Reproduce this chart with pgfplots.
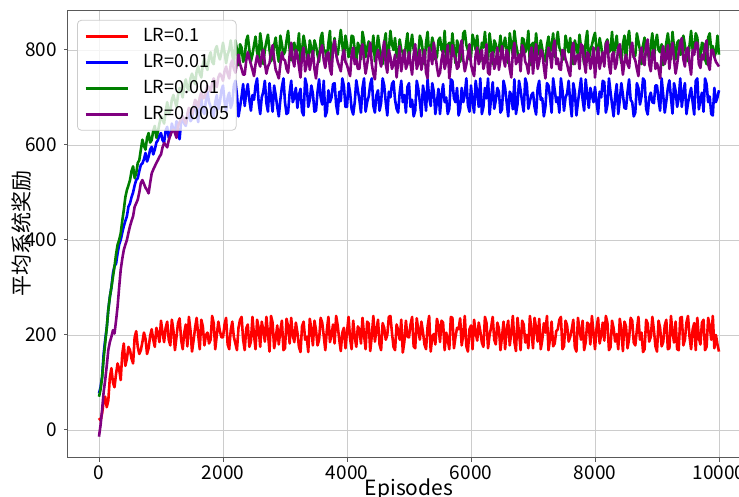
\documentclass[border=0pt]{standalone}
\usepackage{fontspec}
\setmainfont{Noto Sans CJK SC}
\usepackage{pgfplots}
\usepackage{pgfplotstable}
\pgfplotsset{compat=1.18}

\definecolor{mgreen}{HTML}{008000}
\definecolor{mpurple}{HTML}{800080}

% episode, LR=0.1, LR=0.01, LR=0.001, LR=0.0005
\pgfplotstableread{
x r b g p
0 25 77 70 -14
25 20 90 85 10
50 35 112 110 42
75 60 160 150 80
100 70 190 183 105
125 48 215 215 135
150 62 253 253 168
175 110 280 280 185
200 130 300 300 196
225 100 330 322 210
250 90 345 344 203
275 118 350 370 230
300 140 372 390 260
325 128 390 400 300
350 105 400 414 337
375 160 415 440 360
400 182 429 463 379
425 135 440 490 390
450 150 450 505 400
475 175 470 515 415
500 168 477 526 429
525 150 490 545 440
550 140 500 555 450
575 195 515 530 470
600 208 526 540 477
625 175 530 562 485
650 160 545 568 500
675 168 558 590 520
700 185 561 611 526
725 205 570 598 518
750 192 583 590 510
775 160 565 615 505
800 172 575 625 498
825 198 590 605 520
850 212 596 610 540
875 190 580 630 548
900 175 590 640 555
925 215 605 615 562
950 204 610 628 568
975 185 620 645 575
1000 230 625 660 580
1025 205 610 655 595
1050 185 605 645 604
1075 215 630 670 600
1100 228 638 690 595
1125 190 615 665 610
1150 178 620 672 620
1175 232 645 695 628
1200 210 632 705 632
1225 168 628 692 625
1250 196 650 680 615
1275 225 625 705 640
1300 235 612 720 648
1325 190 650 712 655
1350 170 660 700 660
1375 205 645 725 652
1400 222 640 738 645
1425 176 660 720 665
1450 238 672 715 678
1475 210 650 740 672
1500 165 655 750 665
1525 188 675 740 680
1550 215 690 728 695
1575 236 665 755 690
1600 200 648 765 680
1625 170 690 750 700
1650 232 700 742 710
1675 218 672 770 698
1700 178 665 782 700
1725 200 695 765 712
1750 205 712 758 725
1775 182 690 785 720
1800 190 680 795 712
1825 240 668 775 730
1850 225 660 770 740
1875 170 690 800 728
1900 200 705 808 722
1925 228 675 790 742
1950 208 690 780 750
1975 195 715 795 745
2000 195 725 815 735
2025 222 692 795 755
2050 236 670 772 765
2075 180 700 790 750
2100 170 710 800 740
2125 210 678 820 770
2150 228 688 790 778
2175 196 725 770 760
2200 182 735 820 752
2225 168 705 800 775
2250 215 660 768 790
2275 232 680 812 770
2300 238 702 805 760
2325 190 728 775 748
2350 168 682 785 748
2375 214 710 820 778
2400 222 728 830 795
2425 175 695 800 782
2450 186 672 776 770
2475 238 705 790 758
2500 200 695 810 745
2525 170 725 828 770
2550 232 740 795 788
2575 215 690 780 775
2600 175 665 835 765
2625 228 700 812 790
2650 210 712 770 800
2675 186 735 800 772
2700 238 688 818 750
2725 204 670 832 765
2750 165 730 800 772
2775 240 700 776 795
2800 226 670 788 810
2825 172 725 810 780
2850 192 705 826 758
2875 220 680 795 750
2900 180 660 775 740
2925 210 695 830 770
2950 230 722 812 795
2975 168 740 790 780
3000 172 690 796 778
3025 234 665 820 760
3050 218 668 840 752
3075 182 710 800 790
3100 236 735 778 815
3125 200 690 810 780
3150 185 700 815 765
3175 226 720 790 800
3200 205 678 802 790
3225 175 705 835 765
3250 164 718 768 742
3275 218 670 800 790
3300 228 662 830 805
3325 190 740 812 755
3350 196 726 792 770
3375 164 680 770 790
3400 234 695 820 758
3425 212 725 802 780
3450 178 708 785 798
3475 230 670 820 760
3500 210 672 808 740
3525 178 712 790 770
3550 190 738 775 785
3575 236 700 825 800
3600 226 685 836 810
3625 198 735 800 778
3650 168 660 798 762
3675 210 670 780 790
3700 238 715 815 795
3725 185 690 840 760
3750 200 700 770 748
3775 222 728 805 805
3800 182 730 825 820
3825 240 685 795 790
3850 220 665 790 775
3875 190 712 815 765
3900 166 692 842 755
3925 205 740 810 785
3950 215 724 780 800
3975 172 680 830 775
4000 205 680 812 768
4025 238 730 785 756
4050 192 710 795 745
4075 170 675 830 790
4100 230 664 828 805
4125 196 690 800 770
4150 175 736 772 780
4175 218 715 815 760
4200 212 695 805 760
4225 182 668 780 800
4250 236 720 838 812
4275 200 740 820 778
4300 170 670 785 750
4325 228 690 805 770
4350 224 702 818 792
4375 166 728 790 815
4400 198 740 798 770
4425 240 682 830 750
4450 186 668 776 738
4475 210 705 800 785
4500 232 715 830 800
4525 180 672 805 780
4550 168 688 790 765
4575 225 740 770 795
4600 215 725 815 818
4625 190 690 835 770
4650 200 662 768 752
4675 238 712 800 800
4700 240 700 840 785
4725 205 728 812 760
4750 175 734 800 770
4775 168 695 825 790
4800 222 676 784 742
4825 210 668 790 775
4850 190 710 822 808
4875 232 735 800 755
4900 163 690 795 778
4925 186 705 780 800
4950 230 668 810 760
4975 196 722 835 770
5000 195 730 775 795
5025 222 680 810 770
5050 238 695 832 748
5075 176 660 800 790
5100 172 672 805 812
5125 235 735 780 760
5150 210 718 790 772
5175 190 690 830 800
5200 228 660 820 758
5225 206 725 795 780
5250 180 705 770 800
5275 170 672 815 752
5300 218 738 838 740
5325 240 700 790 805
5350 165 682 798 788
5375 196 730 826 770
5400 202 712 812 815
5425 180 665 780 790
5450 234 690 785 765
5475 220 718 820 745
5500 185 665 826 752
5525 230 705 800 780
5550 226 728 795 798
5575 168 690 840 760
5600 205 700 780 775
5625 190 665 810 810
5650 170 676 815 740
5675 238 738 790 770
5700 236 735 835 810
5725 172 698 800 790
5750 196 690 772 782
5775 215 720 820 760
5800 212 662 808 765
5825 235 675 775 805
5850 178 720 792 820
5875 200 690 835 780
5900 240 706 840 755
5925 176 740 810 770
5950 165 684 800 790
5975 212 670 780 812
6000 220 725 785 770
6025 170 690 832 755
6050 232 668 818 745
6075 205 735 800 790
6100 188 710 830 805
6125 226 680 790 770
6150 208 740 776 785
6175 184 665 815 800
6200 175 680 805 760
6225 238 720 838 775
6250 225 698 795 812
6275 172 740 780 752
6300 200 664 835 748
6325 216 700 805 790
6350 238 732 770 795
6375 190 676 820 760
6400 180 694 812 772
6425 226 720 790 805
6450 214 712 800 758
6475 168 668 830 780
6500 196 675 790 808
6525 228 735 810 780
6550 170 720 826 765
6575 212 690 800 800
6600 230 660 772 790
6625 178 712 835 760
6650 206 705 810 742
6675 240 675 790 795
6700 185 738 840 815
6725 166 665 812 770
6750 236 686 795 778
6775 204 735 775 790
6800 168 715 780 755
6825 230 690 825 810
6850 222 670 822 800
6875 184 740 795 775
6900 200 728 805 768
6925 172 676 840 750
6950 240 692 768 788
6975 210 705 810 805
7000 172 710 815 750
7025 236 680 790 785
7050 215 664 835 812
7075 186 720 800 760
7100 234 735 790 775
7125 170 695 820 800
7150 190 698 802 795
7175 225 660 780 765
7200 205 680 776 740
7225 240 730 810 780
7250 168 725 828 805
7275 192 700 795 790
7300 228 668 808 762
7325 176 740 835 805
7350 182 716 785 820
7375 208 690 815 770
7400 212 700 838 782
7425 232 668 805 760
7450 238 740 796 758
7475 170 715 780 800
7500 176 672 780 798
7525 230 700 830 780
7550 220 708 812 770
7575 186 735 795 755
7600 196 690 825 745
7625 212 660 780 800
7650 232 730 770 815
7675 174 712 820 770
7700 165 662 805 785
7725 236 690 790 790
7750 210 715 832 760
7775 190 740 805 812
7800 230 696 795 808
7825 168 672 770 775
7850 185 738 818 752
7875 226 705 840 795
7900 222 678 778 790
7925 180 720 800 760
7950 240 705 810 775
7975 206 690 825 805
8000 170 722 836 742
8025 214 690 800 780
8050 236 665 790 805
8075 182 712 825 760
8100 200 700 808 780
8125 226 735 780 795
8150 188 732 772 765
8175 240 668 815 812
8200 226 684 822 818
8225 168 740 795 770
8250 174 712 800 750
8275 230 685 838 790
8300 214 660 784 795
8325 186 702 810 760
8350 202 728 830 772
8375 170 665 790 805
8400 234 694 795 812
8425 210 730 772 780
8450 166 706 812 748
8475 228 678 830 775
8500 218 676 775 790
8525 172 712 820 770
8550 192 738 840 762
8575 236 695 800 800
8600 230 690 802 815
8625 184 660 785 785
8650 178 668 788 778
8675 210 730 835 760
8700 238 720 818 745
8725 190 685 800 790
8750 205 702 770 805
8775 164 740 810 775
8800 170 735 826 768
8825 232 676 790 810
8850 224 664 798 822
8875 186 700 780 770
8900 196 710 810 755
8925 238 690 835 795
8950 210 688 780 800
8975 176 725 815 760
9000 165 725 832 772
9025 230 695 800 760
9050 215 672 795 740
9075 176 740 812 790
9100 185 705 768 808
9125 220 668 790 770
9150 232 692 815 785
9175 170 720 835 810
9200 172 736 805 760
9225 240 700 780 795
9250 206 666 838 815
9275 184 730 805 780
9300 228 714 780 750
9325 170 680 815 770
9350 168 698 820 795
9375 236 740 790 815
9400 238 680 792 825
9425 178 710 830 780
9450 190 730 810 765
9475 226 665 780 800
9500 240 688 776 805
9525 196 705 810 770
9550 170 720 840 748
9575 212 690 800 800
9600 225 664 800 790
9625 168 735 835 815
9650 236 740 826 815
9675 194 675 790 770
9700 180 695 785 762
9725 226 710 815 790
9750 232 670 812 780
9775 168 740 780 808
9800 175 728 770 820
9825 236 690 826 770
9850 218 702 835 758
9875 190 665 800 800
9900 240 662 808 800
9925 172 720 785 785
9950 200 690 795 775
9975 180 700 830 770
10000 165 715 790 765
}\rewards

\begin{document}
\begin{tikzpicture}
\begin{axis}[
    name=ax,
    scale only axis,
    width=341pt, height=224pt,
    xmin=-500, xmax=10500,
    ymin=-59, ymax=884,
    xtick={0,2000,4000,6000,8000,10000},
    ytick={0,200,400,600,800},
    scaled x ticks=false,
    /pgf/number format/1000 sep={},
    /pgf/number format/assume math mode=true,
    tick pos=left,
    tick align=outside,
    major tick length=2pt,
    tick style={black!65, line width=0.5pt},
    axis line style={black!65, line width=0.5pt},
    grid=major,
    grid style={black!20, line width=0.4pt},
    ticklabel style={font=\fontsize{9.5}{11}\selectfont},
    xticklabel style={yshift=1.5pt},
    xlabel={Episodes},
    ylabel={平均系统奖励},
    label style={font=\fontsize{10.5}{12}\selectfont},
    xlabel style={at={(axis description cs:0.5,-0.0848)}, anchor=base},
    ylabel style={at={(axis description cs:-0.0674,0.5)}, anchor=center, rotate=0},
    legend style={at={(0.0132,0.978)}, anchor=north west,
        draw=black!20, fill=white, fill opacity=0.8, text opacity=1,
        rounded corners=2pt, font=\fontsize{9}{10}\selectfont,
        nodes={inner sep=0pt, text height=7pt, text depth=2pt},
        row sep=4pt, inner xsep=3.5pt, inner ysep=3.5pt,
        /tikz/every odd column/.append style={column sep=7pt}},
    legend cell align=left,
    legend image code/.code={\draw[#1] (0pt,0pt) -- (21pt,0pt);},
    every axis plot/.append style={line width=1.3pt, line join=round},
]
\addplot[red] table[x=x, y=r] {\rewards};
\addlegendentry{LR=0.1}
\addplot[blue] table[x=x, y=b] {\rewards};
\addlegendentry{LR=0.01}
\addplot[mgreen] table[x=x, y=g] {\rewards};
\addlegendentry{LR=0.001}
\addplot[mpurple] table[x=x, y=p] {\rewards};
\addlegendentry{LR=0.0005}
\end{axis}
\pgfresetboundingbox
\path[use as bounding box] ([xshift=-34pt,yshift=-19.5pt]ax.south west)
    rectangle ([xshift=335.5pt,yshift=229pt]ax.south west);
\end{tikzpicture}
\end{document}
